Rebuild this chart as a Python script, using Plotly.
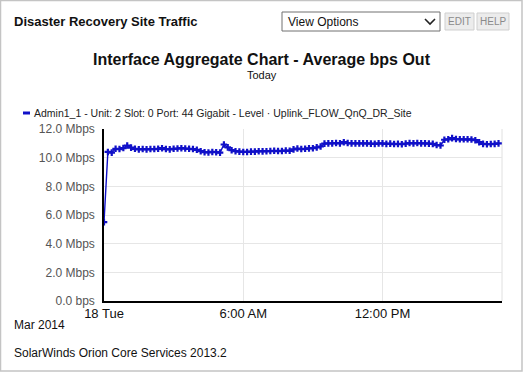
import plotly.graph_objects as go
import pandas as pd

# ---- data ----
series_name = "Admin1_1 - Unit: 2 Slot: 0 Port: 44 Gigabit - Level · Uplink_FLOW_QnQ_DR_Site"
start_time = "2014-03-18 00:00"
interval_minutes = 10
bps_mbps = [
    5.50, 10.40, 10.35, 10.62, 10.60, 10.67, 10.85, 10.70, 10.62, 10.58,
    10.60, 10.58, 10.60, 10.60, 10.62, 10.66, 10.60, 10.58, 10.62, 10.64,
    10.66, 10.64, 10.62, 10.60, 10.55, 10.45, 10.38, 10.36, 10.40, 10.38,
    10.35, 10.92, 10.72, 10.52, 10.45, 10.42, 10.40, 10.40, 10.42, 10.42,
    10.45, 10.44, 10.45, 10.46, 10.48, 10.46, 10.47, 10.50, 10.48, 10.58,
    10.64, 10.60, 10.62, 10.65, 10.66, 10.72, 10.78, 10.98, 11.00, 11.00,
    11.02, 11.00, 11.08, 11.02, 11.00, 11.00, 11.00, 11.00, 11.00, 10.98,
    10.96, 11.00, 11.00, 10.96, 10.98, 10.95, 10.96, 10.94, 10.98, 11.02,
    11.00, 11.02, 11.00, 11.00, 10.98, 10.96, 10.88, 10.85, 11.25, 11.28,
    11.36, 11.30, 11.28, 11.28, 11.28, 11.27, 11.22, 11.08, 10.96, 10.94,
    10.95, 10.96, 11.00,
]
y_tick_vals = [0, 2, 4, 6, 8, 10, 12]
y_tick_text = ["0.0 bps", "2.0 Mbps", "4.0 Mbps", "6.0 Mbps", "8.0 Mbps", "10.0 Mbps", "12.0 Mbps"]
x_tick_vals = ["2014-03-18 00:00", "2014-03-18 06:00", "2014-03-18 12:00"]
x_tick_text = ["18 Tue", "6:00 AM", "12:00 PM"]
x_range = ["2014-03-18 00:00", "2014-03-18 17:09"]

times = pd.date_range(start_time, periods=len(bps_mbps), freq=f"{interval_minutes}min")

W, H = 525, 373
L, R, T, B = 104, 23, 129, 72
PW = W - L - R
PH = H - T - B


def X(px):
    return (px - L) / PW


def Y(py):
    return (H - B - py) / PH


FONT = "Liberation Sans, Arial, sans-serif"
BLUE = "#1010c8"

fig = go.Figure()
fig.add_trace(go.Scatter(
    x=times, y=bps_mbps, mode="lines+markers", name=series_name,
    line=dict(color=BLUE, width=1.4),
    marker=dict(symbol="cross", size=5.5, color=BLUE, line=dict(width=0)),
    showlegend=False,
))

shapes = []
annotations = []

# outer panel border
shapes.append(dict(type="rect", xref="paper", yref="paper",
                   x0=X(0.5), x1=X(522), y0=Y(0.5), y1=Y(371),
                   line=dict(color="#c4c4c4", width=1.5), fillcolor="rgba(0,0,0,0)", layer="below"))

# header title
annotations.append(dict(text="<b>Disaster Recovery Site Traffic</b>", xref="paper", yref="paper",
                        x=X(12), y=Y(21), xanchor="left", yanchor="middle", showarrow=False,
                        font=dict(family=FONT, size=13, color="#111")))
# view options select
shapes.append(dict(type="rect", xref="paper", yref="paper",
                   x0=X(282), x1=X(440), y0=Y(12), y1=Y(31),
                   line=dict(color="#707070", width=1), fillcolor="white"))
annotations.append(dict(text="View Options", xref="paper", yref="paper",
                        x=X(286), y=Y(21.5), xanchor="left", yanchor="middle", showarrow=False,
                        font=dict(family=FONT, size=12, color="#111")))
shapes.append(dict(type="path", xref="paper", yref="paper",
                   path=f"M {X(425)} {Y(19)} L {X(430)} {Y(24)} L {X(435)} {Y(19)}",
                   line=dict(color="#222", width=1.6)))
# EDIT / HELP buttons
for (x0, x1, label) in [(445, 474, "EDIT"), (477, 509, "HELP")]:
    shapes.append(dict(type="rect", xref="paper", yref="paper",
                       x0=X(x0), x1=X(x1), y0=Y(13), y1=Y(30),
                       line=dict(color="#cfcfcf", width=1), fillcolor="#ececec"))
    annotations.append(dict(text=label, xref="paper", yref="paper",
                            x=X((x0 + x1) / 2), y=Y(21.5), xanchor="center", yanchor="middle",
                            showarrow=False, font=dict(family=FONT, size=10, color="#8a8a8a")))

# chart title and subtitle
annotations.append(dict(text="<b>Interface Aggregate Chart - Average bps Out</b>", xref="paper", yref="paper",
                        x=X(262), y=Y(60), xanchor="center", yanchor="middle", showarrow=False,
                        font=dict(family=FONT, size=16, color="#111")))
annotations.append(dict(text="Today", xref="paper", yref="paper",
                        x=X(262), y=Y(75), xanchor="center", yanchor="middle", showarrow=False,
                        font=dict(family=FONT, size=11, color="#111")))

# legend
shapes.append(dict(type="line", xref="paper", yref="paper",
                   x0=X(23), x1=X(30), y0=Y(113), y1=Y(113),
                   line=dict(color=BLUE, width=3)))
annotations.append(dict(text=series_name, xref="paper", yref="paper",
                        x=X(32), y=Y(113), xanchor="left", yanchor="middle", showarrow=False,
                        font=dict(family=FONT, size=10.5, color="#222")))

# footer
annotations.append(dict(text="Mar 2014", xref="paper", yref="paper",
                        x=X(12), y=Y(325), xanchor="left", yanchor="middle", showarrow=False,
                        font=dict(family=FONT, size=12, color="#111")))
annotations.append(dict(text="SolarWinds Orion Core Services 2013.2", xref="paper", yref="paper",
                        x=X(12), y=Y(353), xanchor="left", yanchor="middle", showarrow=False,
                        font=dict(family=FONT, size=12, color="#111")))

# right edge gridline of plot area
shapes.append(dict(type="line", xref="paper", yref="paper", x0=1, x1=1, y0=0, y1=1,
                   line=dict(color="#e0e0e0", width=1), layer="below"))

fig.update_layout(
    width=W, height=H,
    margin=dict(l=L, r=R, t=T, b=B, pad=0),
    paper_bgcolor="white", plot_bgcolor="white",
    font=dict(family=FONT, size=12, color="#111"),
    shapes=shapes, annotations=annotations,
    xaxis=dict(
        type="date", range=x_range,
        tickvals=x_tick_vals, ticktext=x_tick_text,
        showgrid=True, gridcolor="#e6e6e6", gridwidth=1,
        showline=True, linecolor="#000", linewidth=1.5,
        mirror=False, zeroline=False, ticks="",
        tickfont=dict(family=FONT, size=13, color="#111"),
        fixedrange=True,
    ),
    yaxis=dict(
        range=[0, 12], tickvals=y_tick_vals, ticktext=y_tick_text,
        showgrid=True, gridcolor="#e6e6e6", gridwidth=1,
        showline=True, linecolor="#000", linewidth=1.5,
        zeroline=False, ticks="", ticklabelstandoff=5,
        tickfont=dict(family=FONT, size=12, color="#555"),
        fixedrange=True,
    ),
)

fig.write_html(
    "out.html",
    config={"displayModeBar": False},
    post_script="document.body.style.margin='0';document.body.style.padding='0';document.body.style.overflow='hidden';",
)
